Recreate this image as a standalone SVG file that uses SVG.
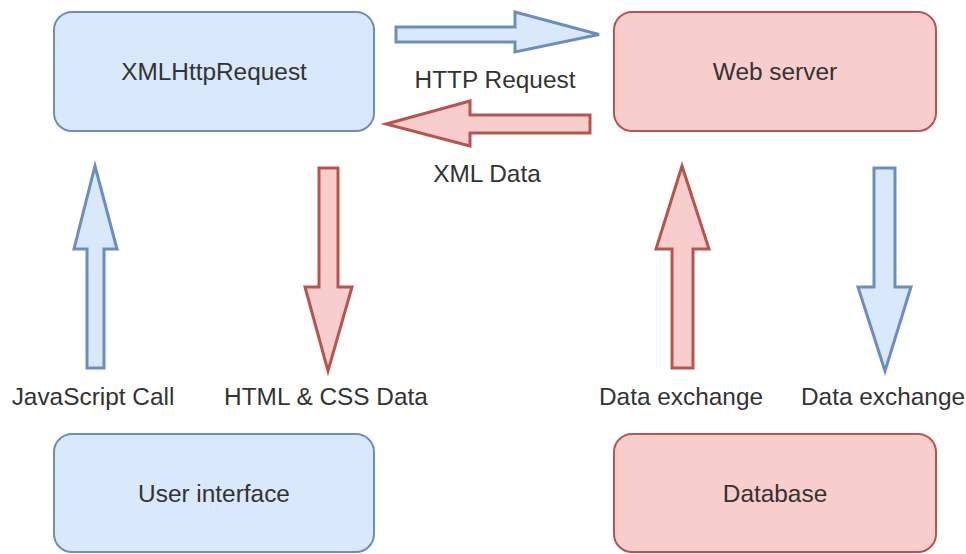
<svg xmlns="http://www.w3.org/2000/svg" width="966" height="554" viewBox="0 0 966 554">
<style>
.b{fill:#dae8fc;stroke:#6c8ebf;stroke-width:2}
.r{fill:#f8cecc;stroke:#b85450;stroke-width:2}
.a{stroke-width:3;stroke-linejoin:miter}
text{font-family:"Liberation Sans",Arial,sans-serif;font-size:24.4px;fill:#333;text-anchor:middle}
</style>
<rect width="966" height="554" fill="#fff"/>
<g id="xhr"><rect class="b" x="54" y="12" width="320" height="119" rx="18"/><text x="214" y="80">XMLHttpRequest</text></g>
<g id="web"><rect class="r" x="614" y="12" width="322" height="119" rx="18"/><text x="775" y="80">Web server</text></g>
<g id="ui"><rect class="b" x="54" y="434" width="320" height="118" rx="18"/><text x="214" y="502">User interface</text></g>
<g id="db"><rect class="r" x="614" y="434" width="322" height="118" rx="18"/><text x="775" y="502">Database</text></g>
<g id="connectors">
<polygon class="b a" points="396,27 515,27 515,12 599,34.5 515,52 515,42 396,42"/>
<polygon class="r a" points="590,115 470,115 470,101 386,124 470,146 470,133 590,133"/>
<polygon class="b a" points="87,368 87,249 74,249 95,166 117,249 104,249 104,368"/>
<polygon class="r a" points="319,168 338,168 338,287 352,287 328,371 305,287 319,287"/>
<polygon class="r a" points="672,368 672,249 656,249 682,166 709,249 693,249 693,368"/>
<polygon class="b a" points="874,168 895,168 895,287 911,287 885,371 858,287 874,287"/>
</g>
<text x="495" y="88">HTTP Request</text>
<text x="487" y="182">XML Data</text>
<text x="93" y="405">JavaScript Call</text>
<text x="326" y="405">HTML &amp; CSS Data</text>
<text x="681" y="405">Data exchange</text>
<text x="883" y="405">Data exchange</text>
</svg>
